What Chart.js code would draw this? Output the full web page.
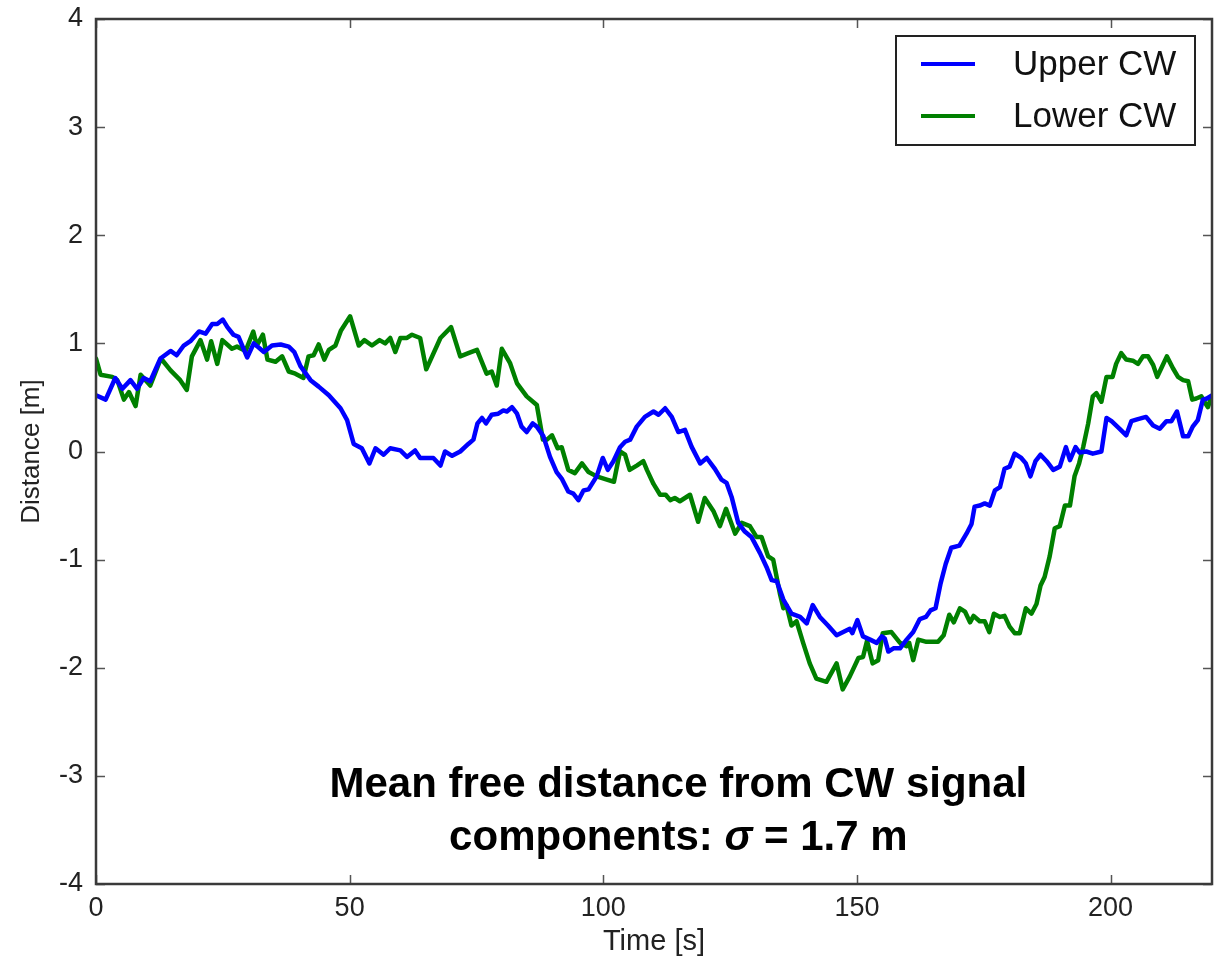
<!DOCTYPE html>
<html lang="en">
<head>
<meta charset="UTF-8" />
<title>Mean free distance from CW signal components</title>
<script src="https://cdn.jsdelivr.net/npm/chart.js@4.4.0/dist/chart.umd.min.js"></script>
<style>
  html, body { margin: 0; padding: 0; background: #fff; }
  #chart-wrap { width: 1214px; height: 956px; }
</style>
</head>
<body>
<div id="chart-wrap"><canvas id="distanceChart" width="1214" height="956"></canvas></div>
<script>
// values (time in s, distance in m)
const upperTime = [0, 1.9, 3.8, 5.2, 6.8, 8.1, 9.4, 10.7, 12.7, 14.7, 15.9, 17.3, 18.6, 20.3, 21.6, 22.9, 23.9, 25.0, 25.9, 27.1,
  28.1, 29.8, 31.1, 33.1, 34.7, 36.4, 38.0, 39.1, 40.3, 42.3, 43.9, 45.9, 48.2, 49.5, 50.8, 52.4, 53.9, 55.1, 56.7, 58.0,
  60.0, 61.3, 62.9, 63.9, 66.5, 67.9, 68.8, 70.2, 71.8, 73.4, 74.4, 75.2, 76.1, 76.9, 78.0, 79.3, 80.3, 81.0, 82.0, 83.0,
  83.9, 84.9, 86.1, 86.9, 88.2, 89.5, 90.8, 91.8, 93.1, 94.1, 95.1, 96.1, 97.1, 98.7, 99.9, 100.9, 102.0, 103.3, 104.3, 105.3,
  106.6, 108.2, 109.9, 110.9, 112.2, 113.5, 114.8, 116.1, 117.4, 119.1, 120.4, 122.0, 123.3, 124.3, 125.3, 126.6, 127.9, 129.2, 130.9, 132.2,
  133.2, 134.2, 135.5, 137.1, 138.8, 140.1, 141.3, 142.7, 144.3, 146.0, 147.3, 148.6, 149.1, 150.1, 151.2, 152.6, 153.9, 154.9, 155.5, 156.2,
  157.2, 158.5, 159.8, 161.1, 162.4, 163.6, 164.5, 165.5, 166.5, 167.5, 168.6, 170.2, 171.6, 172.6, 173.2, 174.2, 175.2, 176.2, 177.2, 178.2,
  179.1, 180.1, 181.1, 182.4, 183.3, 184.2, 185.2, 186.2, 187.4, 188.7, 190.0, 191.2, 192.0, 193.1, 193.9, 195.2, 196.5, 198.2, 199.2, 200.2,
  201.8, 203.1, 204.1, 205.4, 207.0, 208.4, 209.7, 211.0, 212.0, 213.1, 214.3, 215.3, 216.2, 217.2, 218.2, 219.0, 220.0];
const upperDist = [0.52, 0.48, 0.68, 0.58, 0.66, 0.58, 0.68, 0.65, 0.86, 0.93, 0.89, 0.98, 1.02, 1.11, 1.09, 1.18, 1.18, 1.22, 1.15, 1.08,
  1.06, 0.87, 1.0, 0.92, 0.98, 0.99, 0.97, 0.92, 0.79, 0.66, 0.60, 0.52, 0.40, 0.29, 0.07, 0.03, -0.11, 0.03, -0.03, 0.03,
  0.01, -0.05, 0.01, -0.06, -0.06, -0.13, 0.0, -0.04, 0.0, 0.07, 0.11, 0.26, 0.31, 0.26, 0.34, 0.35, 0.38, 0.37, 0.41, 0.35,
  0.23, 0.18, 0.26, 0.23, 0.14, -0.05, -0.19, -0.25, -0.37, -0.39, -0.45, -0.36, -0.35, -0.23, -0.06, -0.17, -0.09, 0.04, 0.09, 0.11,
  0.23, 0.32, 0.37, 0.34, 0.40, 0.32, 0.18, 0.20, 0.045, -0.11, -0.06, -0.16, -0.26, -0.29, -0.42, -0.66, -0.74, -0.79, -0.94, -1.07,
  -1.19, -1.20, -1.37, -1.50, -1.53, -1.59, -1.42, -1.53, -1.61, -1.70, -1.67, -1.64, -1.68, -1.56, -1.71, -1.74, -1.77, -1.71, -1.73, -1.85,
  -1.82, -1.82, -1.74, -1.67, -1.55, -1.53, -1.47, -1.45, -1.22, -1.04, -0.89, -0.87, -0.76, -0.67, -0.51, -0.50, -0.48, -0.50, -0.36, -0.33,
  -0.16, -0.14, -0.02, -0.06, -0.11, -0.23, -0.09, -0.03, -0.09, -0.17, -0.14, 0.04, -0.08, 0.04, -0.01, 0.0, -0.02, 0.0, 0.31, 0.28,
  0.21, 0.15, 0.28, 0.30, 0.32, 0.24, 0.21, 0.28, 0.28, 0.37, 0.14, 0.14, 0.23, 0.29, 0.48, 0.49, 0.52];

const lowerTime = [0, 0.9, 3.2, 4.2, 5.5, 6.5, 7.8, 8.8, 10.7, 12.8, 14.7, 16.6, 17.9, 18.9, 20.6, 21.9, 22.7, 23.9, 24.9, 26.8,
  27.8, 29.5, 31.0, 31.7, 32.9, 33.8, 35.4, 36.7, 38.0, 39.3, 40.9, 41.9, 42.9, 43.9, 45.0, 45.9, 47.2, 48.3, 50.1, 51.8,
  52.9, 54.4, 55.9, 57.0, 58.0, 59.0, 60.0, 61.3, 62.3, 63.9, 65.1, 67.9, 70.0, 71.8, 73.4, 75.1, 77.0, 78.0, 79.0, 80.0,
  81.6, 83.0, 84.9, 86.9, 88.1, 88.9, 89.9, 91.0, 91.8, 93.1, 94.4, 95.8, 97.1, 98.7, 100.7, 102.1, 103.3, 104.3, 105.2, 106.6,
  107.9, 108.6, 109.9, 111.2, 112.3, 113.2, 114.1, 115.1, 117.1, 118.7, 120.0, 121.7, 123.0, 124.2, 126.0, 127.3, 128.9, 130.2, 131.2, 132.5,
  133.5, 134.8, 135.5, 136.1, 137.1, 138.1, 139.4, 140.7, 142.0, 144.0, 146.0, 147.2, 148.6, 150.3, 151.2, 152.0, 153.1, 154.2, 155.1, 156.8,
  158.5, 159.8, 160.3, 161.1, 162.1, 163.7, 166.0, 167.1, 168.2, 169.1, 170.3, 171.3, 172.3, 173.0, 174.2, 175.2, 176.1, 177.0, 178.2, 179.1,
  180.1, 181.1, 182.1, 183.3, 184.4, 185.4, 186.2, 187.0, 188.0, 189.0, 190.0, 191.0, 192.0, 192.9, 193.8, 194.6, 195.6, 196.5, 197.2, 198.2,
  199.2, 200.4, 201.1, 202.1, 203.1, 204.4, 205.4, 206.4, 207.4, 208.4, 209.2, 210.0, 211.1, 212.3, 213.3, 214.3, 215.3, 216.1, 216.9, 217.9,
  218.5, 219.2, 219.9];
const lowerDist = [0.86, 0.71, 0.69, 0.66, 0.48, 0.55, 0.42, 0.71, 0.61, 0.86, 0.75, 0.66, 0.57, 0.88, 1.03, 0.85, 1.02, 0.81, 1.03, 0.95,
  0.97, 0.93, 1.11, 0.98, 1.08, 0.85, 0.83, 0.88, 0.74, 0.72, 0.68, 0.88, 0.89, 0.99, 0.85, 0.94, 0.98, 1.12, 1.25, 0.98,
  1.03, 0.98, 1.03, 1.0, 1.05, 0.92, 1.05, 1.05, 1.08, 1.05, 0.76, 1.05, 1.15, 0.88, 0.91, 0.94, 0.72, 0.74, 0.61, 0.95,
  0.82, 0.63, 0.51, 0.43, 0.11, 0.11, 0.15, 0.03, 0.04, -0.17, -0.20, -0.11, -0.19, -0.23, -0.26, -0.28, 0.0, -0.03, -0.17, -0.13,
  -0.09, -0.17, -0.30, -0.40, -0.40, -0.45, -0.43, -0.46, -0.40, -0.65, -0.43, -0.55, -0.69, -0.53, -0.76, -0.66, -0.69, -0.79, -0.79, -0.97,
  -1.00, -1.31, -1.45, -1.42, -1.61, -1.57, -1.77, -1.96, -2.10, -2.13, -1.96, -2.20, -2.08, -1.91, -1.90, -1.75, -1.96, -1.93, -1.68, -1.67,
  -1.77, -1.80, -1.77, -1.93, -1.74, -1.76, -1.76, -1.70, -1.51, -1.58, -1.45, -1.48, -1.58, -1.52, -1.57, -1.57, -1.67, -1.50, -1.53, -1.52,
  -1.62, -1.68, -1.68, -1.45, -1.50, -1.41, -1.24, -1.16, -0.97, -0.71, -0.69, -0.50, -0.50, -0.23, -0.11, 0.04, 0.26, 0.51, 0.54, 0.46,
  0.69, 0.69, 0.81, 0.91, 0.85, 0.84, 0.81, 0.88, 0.88, 0.80, 0.69, 0.77, 0.88, 0.77, 0.69, 0.66, 0.65, 0.48, 0.49, 0.51,
  0.46, 0.41, 0.51];

const seriesLabels = ["Upper CW", "Lower CW"];
const seriesColors = ["#0000ff", "#008000"];
const xTicks = [0, 50, 100, 150, 200];
const yTicks = [-4, -3, -2, -1, 0, 1, 2, 3, 4];
const noteLines = ["Mean free distance from CW signal", "components: ", "\u03c3", " = 1.7 m"];

const FONT = "'Liberation Sans', Arial, Helvetica, sans-serif";

function toPoints(xs, ys) {
  return xs.map((t, i) => ({ x: t, y: ys[i] }));
}

// frame with inward ticks, boxed legend and the note, drawn over the lines
const framePlugin = {
  id: "framePlugin",
  afterDatasetsDraw(chart) {
    const { ctx, chartArea: a, scales } = chart;
    const xs = scales.x, ys = scales.y;
    ctx.save();

    ctx.strokeStyle = "#555";
    ctx.lineWidth = 1.5;
    ctx.beginPath();
    xTicks.forEach((v) => {
      const px = Math.round(xs.getPixelForValue(v)) + 0.5;
      ctx.moveTo(px, a.bottom); ctx.lineTo(px, a.bottom - 9);
      ctx.moveTo(px, a.top); ctx.lineTo(px, a.top + 9);
    });
    yTicks.forEach((v) => {
      const py = Math.round(ys.getPixelForValue(v)) + 0.5;
      ctx.moveTo(a.left, py); ctx.lineTo(a.left + 9, py);
      ctx.moveTo(a.right, py); ctx.lineTo(a.right - 9, py);
    });
    ctx.stroke();

    ctx.strokeStyle = "#3a3a3a";
    ctx.lineWidth = 2.5;
    ctx.strokeRect(a.left, a.top, a.right - a.left, a.bottom - a.top);

    // legend box
    const bw = 299, bh = 109;
    const bx = a.right - 17 - bw, by = a.top + 17;
    ctx.fillStyle = "#fff";
    ctx.fillRect(bx, by, bw, bh);
    ctx.strokeStyle = "#222";
    ctx.lineWidth = 2;
    ctx.strokeRect(bx, by, bw, bh);
    ctx.font = "35px " + FONT;
    ctx.textBaseline = "middle";
    ctx.textAlign = "left";
    chart.data.datasets.forEach((ds, i) => {
      const ry = by + 28 + i * 52;
      ctx.strokeStyle = ds.borderColor;
      ctx.lineWidth = 4;
      ctx.beginPath();
      ctx.moveTo(bx + 25, ry); ctx.lineTo(bx + 79, ry);
      ctx.stroke();
      ctx.fillStyle = "#111";
      ctx.fillText(ds.label, bx + 117, ry + 1);
    });

    // note in the lower part of the plot
    const cx = xs.getPixelForValue(114.8);
    const y1 = ys.getPixelForValue(-3.196);
    const y2 = ys.getPixelForValue(-3.686);
    ctx.fillStyle = "#000";
    ctx.textBaseline = "alphabetic";
    ctx.textAlign = "left";
    const bold = "bold 42px " + FONT;
    const boldIt = "italic bold 42px " + FONT;
    ctx.font = bold;
    const w1 = ctx.measureText(noteLines[0]).width;
    ctx.fillText(noteLines[0], cx - w1 / 2, y1);
    const parts = [[noteLines[1], bold], [noteLines[2], boldIt], [noteLines[3], bold]];
    let total = 0;
    parts.forEach((p) => { ctx.font = p[1]; total += ctx.measureText(p[0]).width; });
    let px = cx - total / 2;
    parts.forEach((p) => {
      ctx.font = p[1];
      ctx.fillText(p[0], px, y2);
      px += ctx.measureText(p[0]).width;
    });

    ctx.restore();
  },
};

const ctx = document.getElementById("distanceChart");
new Chart(ctx, {
  type: "line",
  data: {
    datasets: [
      { label: seriesLabels[0], data: toPoints(upperTime, upperDist), borderColor: seriesColors[0] },
      { label: seriesLabels[1], data: toPoints(lowerTime, lowerDist), borderColor: seriesColors[1] },
    ],
  },
  options: {
    responsive: false,
    animation: false,
    parsing: false,
    layout: { padding: { top: 19, right: 2, left: 0, bottom: 0 } },
    elements: {
      point: { radius: 0 },
      line: { borderWidth: 4.5, tension: 0, fill: false, borderJoinStyle: "round", borderCapStyle: "round" },
    },
    plugins: {
      legend: { display: false },
      tooltip: { enabled: false },
    },
    scales: {
      x: {
        type: "linear",
        min: 0,
        max: 220,
        afterBuildTicks: (s) => { s.ticks = xTicks.map((v) => ({ value: v })); },
        afterFit: (s) => { s.height = 72; s.paddingLeft = 0; s.paddingRight = 0; },
        grid: { display: false, drawTicks: false },
        border: { display: false },
        ticks: { font: { size: 27, family: FONT }, color: "#222", padding: 8, maxRotation: 0 },
        title: {
          display: true,
          text: "Time [s]",
          font: { size: 29, family: FONT, lineHeight: 1 },
          color: "#222",
          padding: 0,
        },
      },
      y: {
        type: "linear",
        min: -4,
        max: 4,
        afterBuildTicks: (s) => { s.ticks = yTicks.map((v) => ({ value: v })); },
        afterFit: (s) => { s.width = 96; s.paddingTop = 0; s.paddingBottom = 0; },
        grid: { display: false, drawTicks: false },
        border: { display: false },
        ticks: { font: { size: 27, family: FONT }, color: "#222", padding: 13 },
        title: {
          display: true,
          text: "Distance [m]",
          font: { size: 26, family: FONT, lineHeight: 1 },
          color: "#222",
          padding: { top: 19, bottom: 0 },
        },
      },
    },
  },
  plugins: [framePlugin],
});
</script>
</body>
</html>
